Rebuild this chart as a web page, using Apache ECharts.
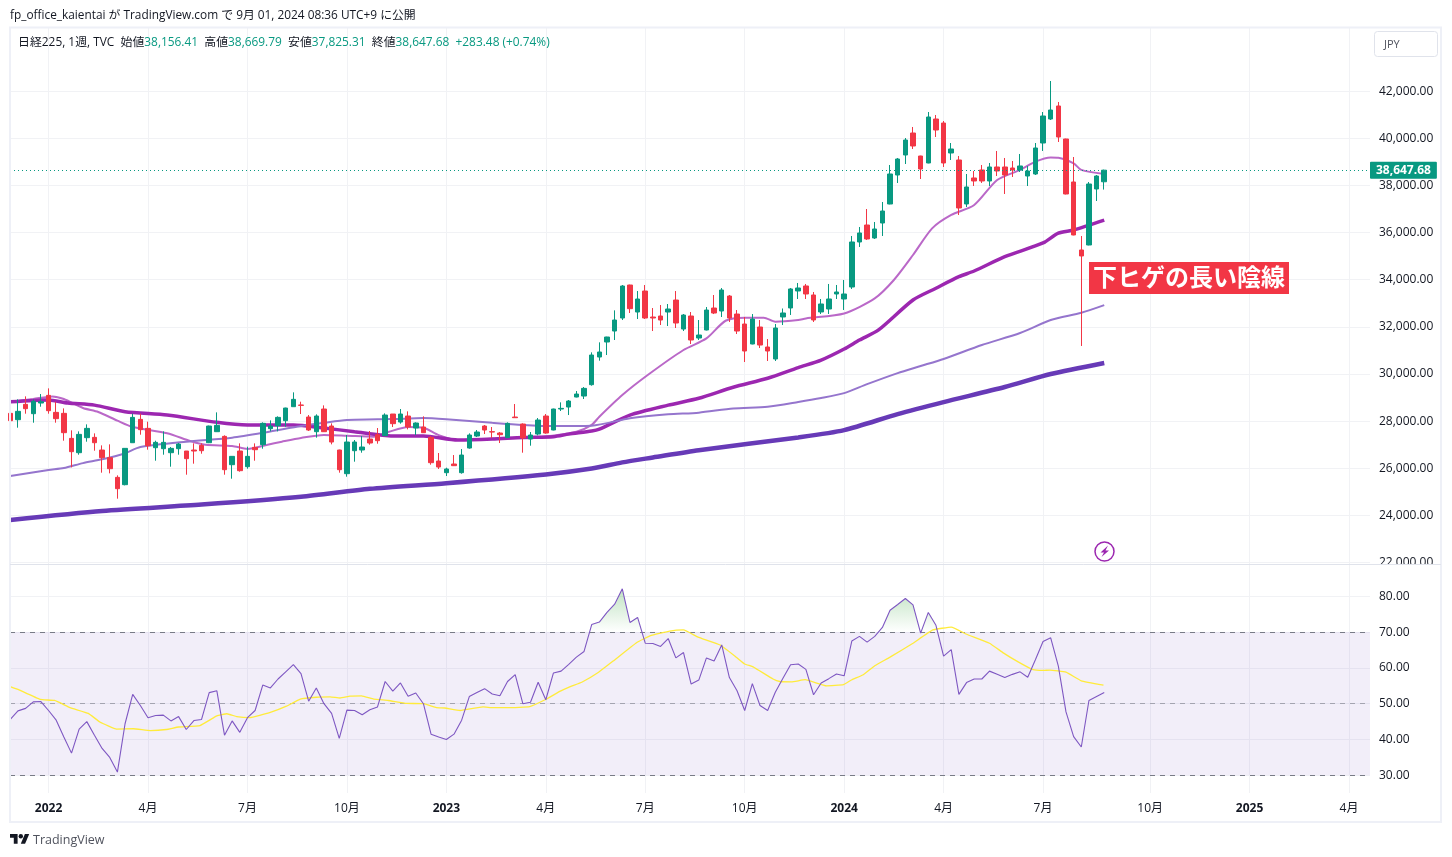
<!DOCTYPE html>
<html><head><meta charset="utf-8">
<style>html,body{margin:0;padding:0;background:#fff}#c{width:1452px;height:857px}</style>
<script src="https://cdn.jsdelivr.net/npm/echarts@6/dist/echarts.min.js"></script>
</head><body><div id="c"></div>
<script>
// Weekly candles, index 0 = week of 2021-11-29
const opens=[28331,28062,28713,28317,28769,29094,28373,28331,27270,26662,27299,27313,26775,26450,25616,25305,27086,28076,27694,26874,26832,26662,26832,26733,26775,26973,27086,27553,27355,26153,26733,26068,26888,27002,27680,27808,28020,28614,
28685,28175,27553,28515,27794,26776,25772,26747,26776,27242,27426,27384,28303,27963,28218,27709,27751,27313,26309,25814,26182,25814,26860,27369,27794,27553,27497,27299,28175,27878,27242,27454,28218,27624,28515,28600,29024,29066,
29548,30721,31358,31824,32376,33776,32630,33521,32418,32461,32630,33139,31909,32461,31527,31867,32800,32673,33309,32545,32121,31273,31994,31146,30637,
32420,32802,33523,33735,33353,32632,32759,33395,33183,33692,35601,36322,35771,36407,37213,38443,39292,40225,39249,38953,40819,40649,
39377,39080,37214,38317,38656,38189,38783,38783,38741,38656,38401,38486,39801,40819,41371,39971,38147,35262,35474,37850,38156.41];
const closes=[28020,28416,28529,28840,28826,28444,28105,27511,26705,27440,27694,27086,26450,25983,25135,26846,28161,27638,26959,27101,27101,26846,27030,26408,26733,26747,27793,27822,25941,26507,25899,26507,26789,27907,27793,28161,28557,28925,
28670,27624,28218,27553,27115,25941,27115,27115,26903,27073,27172,28260,27893,28303,27751,27921,27511,26238,26054,25970,26111,26563,27412,27539,27624,27539,27426,27907,28147,27285,27412,28048,27497,28515,28543,28854,29151,29391,
30806,30934,31570,32291,33733,32772,33182,32376,32376,32291,32758,32164,32503,31443,31655,32715,32588,33564,32376,31824,30976,32333,31230,30976,31952,
32589,33608,33650,33395,32293,32971,33183,33480,33395,35601,35983,35729,36153,36916,38486,39122,39928,39674,38698,40904,40352,38953,
39547,37044,37935,38189,38189,38783,38614,38444,38656,38826,38614,39589,40947,41201,40056,37638,35899,35008,38062,38401,38647.68];
const lows=[28006,27723,28317,27935,28614,28317,27935,27171,26040,26577,27129,26747,25814,25786,24711,25277,27086,27426,26790,26323,26577,26068,26577,25729,26196,26620,27070,27539,25729,25559,25856,25983,26323,26832,27567,27567,27765,28614,
28303,27582,27299,27540,27016,25814,25644,26281,26662,27002,27044,27370,27751,27893,27652,27412,27500,26153,25970,25673,26097,25772,26832,27327,27454,27285,27072,27290,28133,26662,26959,27398,27468,27610,28430,28260,29010,28939,
29505,30566,30806,31443,32291,32588,32333,32333,31824,32079,32036,31952,31824,31273,31443,31850,32545,32418,32206,31697,30509,31260,31103,30552,30552,
32079,32505,33183,33183,32208,32547,32547,33183,32717,33608,35389,35686,35729,35856,37200,38104,38910,39546,38274,38940,40055,38783,
39080,36747,37086,37977,38105,37977,38401,37638,38359,38571,37977,38444,39462,40777,39844,37620,35885,31190,35460,37341,37825.31];
const highs=[28359,28925,29052,28925,29151,29391,28826,28543,27610,27567,27864,27482,26973,27016,25701,26860,28317,28317,27977,27171,27567,26903,27072,26733,27058,27058,27810,28373,27398,26521,27058,26917,27058,27949,28034,28204,28571,29222,
28826,28260,28289,28670,27907,26790,27412,27200,27369,27582,27709,28331,28303,28515,28416,27949,28204,27369,26648,26026,26563,26818,27483,27624,27836,27751,27539,27949,28727,27907,27539,28133,28303,28530,28798,28897,29278,29448,
30919,31344,31580,32701,33776,33790,33521,33776,32800,32927,32970,33521,32545,32630,32291,32842,33352,33648,33352,32715,32418,32545,32291,31485,32121,
32780,33650,33862,33820,33480,33183,33820,33777,33989,35856,36238,37001,36450,37298,38868,39165,40013,40480,39260,41116,40989,40734,
39801,39250,38486,38614,38868,38953,39462,39165,39038,39335,38826,39801,41116,42431,41541,39985,39207,35856,38147,38444,38669.79];

// Moving averages, read at [week index, price]
const ma1=[[0,28820],[3,28940],[5.5,29050],[7,28940],[9.5,28560],[11.5,28390],[14,28020],[16,27750],[20.5,27490],[23.5,27160],[25.5,27000],[29,26950],[31,26820],[33.5,26990],[35.5,27130],[38,27290],[41,27410],[44,27380],[47.5,27340],[49.5,27550],[52,27750],[54,27720],[56,27410],[58.5,27200],[64,27270],[69.5,27340],[74,27550],[76,27840],[77,28190],[80,29110],[83.5,30000],[88,31020],[91,31510],[93.5,32260],[96,32390],[98.5,32390],[100,32220],[103,32290],[104,32360],[109,32570],[113,33210],[115.5,33990],[118,35050],[120.5,36180],[123,36750],[126,37170],[129,38230],[132,38660],[134,39010],[136,39190],[137,39180],[139,38940],[140,38660],[143,38490]];
const ma2=[[0,28820],[5,28900],[7.5,28770],[11,28680],[15,28400],[20.5,28260],[27,27950],[31,27840],[37,27840],[41,27710],[45,27550],[50,27370],[54,27370],[58.5,27200],[63,27240],[67,27310],[71,27340],[73,27450],[76,27580],[77,27660],[81,28260],[86,28680],[90,28970],[94.5,29440],[99,29820],[103,30270],[106,30590],[109,31060],[111,31440],[113.5,31870],[118,33140],[121,33640],[124,34130],[126,34370],[130,34980],[135,35560],[137,35980],[139,36110],[143,36530]];
const ma3=[[0,25670],[5,25926],[7,26010],[9.5,26220],[12,26380],[15,26640],[17,26900],[23,27130],[29,27300],[33.5,27530],[38,27790],[41,27930],[44,28050],[50,28090],[54,28130],[57,28080],[63,27930],[67,27840],[71,27790],[76,27810],[81,28120],[86,28290],[90,28360],[94.5,28540],[99,28610],[103,28810],[106,28980],[109,29190],[112,29570],[116,30040],[119,30340],[122,30640],[127,31230],[132,31740],[136,32290],[140,32600],[143,32925]];
const ma4=[[0,23810],[12,24190],[25,24460],[38,24790],[47,25130],[57,25370],[70,25740],[76,25990],[80,26250],[84,26460],[90,26770],[103,27310],[109,27620],[116,28300],[122,28810],[130,29450],[136,30000],[143,30470]];

// RSI per week
const rsi=[45.6,48.0,48.7,50.5,50.6,48.1,45.4,40.7,36.2,42.9,45.0,41.2,37.5,35.0,30.9,44.4,52.6,49.5,46.1,46.7,46.8,45.2,46.4,42.8,45.3,45.6,53.1,53.6,41.2,45.2,42.0,46.1,48.1,55.2,54.4,56.9,58.9,60.9,58.4,50.7,54.4,50.0,47.3,40.3,48.2,48.1,46.9,48.3,49.1,56.2,53.5,55.8,
52.1,53.0,50.0,41.5,40.7,40.0,41.5,45.4,52.0,53.1,54.2,52.7,52.2,56.2,58.1,50.0,50.4,56.0,51.1,58.6,59.1,61.0,63.0,64.6,72.1,72.8,75.5,77.8,82.1,72.7,74.1,66.9,66.8,66.0,68.2,62.8,64.3,55.5,56.6,62.8,61.9,66.4,57.3,53.6,48.1,55.6,49.5,48.1,53.2,
57.1,60.9,61.1,59.6,52.5,55.8,57.0,58.3,57.8,67.5,68.8,67.2,68.8,71.3,76.1,77.7,79.4,77.6,69.7,75.5,71.9,63.3,65.1,52.6,55.9,56.9,56.9,59.1,58.2,57.3,58.2,58.9,57.4,62.3,67.4,68.4,60.5,47.7,40.8,37.9,50.9,52.0,53.1];
const rsiMa=[[0,54.8],[1,54.0],[3.9,51.2],[5.8,50.9],[7.8,48.9],[10.2,47.3],[11.7,44.9],[13.9,42.9],[16.1,43.0],[18.3,42.5],[20.4,42.8],[22,43.5],[24.8,43.9],[27,46.6],[28.3,47.2],[29.6,46.4],[31.3,46.1],[33.9,47.5],[36.1,49.3],[37.9,51.3],[40,51.8],[41.8,51.9],[43.1,51.6],[44.4,52.1],[45.9,52.2],[47.5,51.3],[49.4,50.9],[51.8,50.1],[54,50.0],[55.7,48.9],[56.8,48.8],[58.8,48.1],[61.8,49.1],[63.1,48.9],[65.1,48.9],[67.9,49.2],[69.9,51.1],[71.9,53.5],[73.2,54.8],[74.7,56.0],[76.9,58.8],[78.8,61.9],[81.9,67.1],[83.8,69.1],[86.2,70.3],[88,70.6],[89.9,68.6],[92.8,66.4],[94.9,63.0],[96,61.1],[97.1,60.3],[99.7,56.9],[100.6,56.2],[102.1,56.1],[103.9,56.7],[106.7,55.0],[108.9,55.3],[110,56.7],[111.5,58.1],[113,60.6],[115,63.0],[118,66.9],[120.6,70.6],[123,71.4],[125,69.4],[128,66.9],[129.8,64.2],[131.8,61.6],[133.7,59.5],[135,59.3],[135.9,59.4],[138,58.8],[140,56.4],[142.9,55.2]];

const tickWeeks=[5,18,31,44,57,70,83,96,109,122,135,149,162,175];
const tickLabels=['2022','4月','7月','10月','2023','4月','7月','10月','2024','4月','7月','10月','2025','4月'];
const priceTicks=[22000,24000,26000,28000,30000,32000,34000,36000,38000,40000,42000];
const rsiTicks=[30,40,50,60,70,80];
const lastClose=38647.68;
const xMin=-0.04,xMax=177.74;

const UP='#089981',DOWN='#f23645',GRID='#f1f2f5',TXT='#131722';
const LATIN='"Open Sans","Noto Sans CJK JP",sans-serif';

const candles=opens.map((o,i)=>[i,o,closes[i],lows[i],highs[i]]);
const rsiPts=rsi.map((v,i)=>[i,v]);
// part of the RSI above the 70 level, cut at the level
const over=[];
rsi.forEach((v,i)=>{
  if(i>0&&(rsi[i-1]-70)*(v-70)<0){over.push([i-1+(70-rsi[i-1])/(v-rsi[i-1]),70]);}
  over.push([i,Math.max(v,70)]);
});

const fmtPrice=v=>Number(v).toLocaleString('en-US',{minimumFractionDigits:2,maximumFractionDigits:2});
const lineS=(name,data,color,width,xi,z)=>({name,type:'line',data,xAxisIndex:xi,yAxisIndex:xi,showSymbol:false,symbol:'none',smooth:0.25,z:z||2,lineStyle:{color,width},silent:true});

const xCommon={type:'value',min:xMin,max:xMax,axisLine:{show:false},
  axisTick:{show:false,customValues:tickWeeks},
  splitLine:{show:true,lineStyle:{color:GRID,width:1}}};

const chart=echarts.init(document.getElementById('c'),null,{renderer:'canvas'});
chart.setOption({
  animation:false,backgroundColor:'#fff',
  textStyle:{fontFamily:LATIN},
  grid:[{left:10,right:82,top:28,height:536},{left:10,right:82,top:564.3,height:228.7}],
  xAxis:[
    Object.assign({},xCommon,{gridIndex:0,axisLabel:{show:false,customValues:tickWeeks}}),
    Object.assign({},xCommon,{gridIndex:1,axisLabel:{show:true,customValues:tickWeeks,margin:10,color:TXT,fontSize:12,fontFamily:LATIN,
      formatter:v=>{const s=tickLabels[tickWeeks.indexOf(v)];return /月/.test(s)?s:'{y|'+s+'}';},
      rich:{y:{fontWeight:'bold',fontSize:12,color:TXT,fontFamily:LATIN}}}})
  ],
  yAxis:[
    {type:'value',gridIndex:0,position:'right',min:21940,max:44680,scale:true,
     axisLine:{show:false},axisTick:{show:false,customValues:priceTicks},
     axisLabel:{customValues:priceTicks,margin:9,color:TXT,fontSize:12,fontFamily:LATIN,formatter:fmtPrice,padding:[0,0,3,0]},
     splitLine:{show:true,lineStyle:{color:GRID,width:1}}},
    {type:'value',gridIndex:1,position:'right',min:25.06,max:88.94,scale:true,
     axisLine:{show:false},axisTick:{show:false,customValues:rsiTicks},
     axisLabel:{customValues:rsiTicks,margin:9,color:TXT,fontSize:12,fontFamily:LATIN,formatter:v=>Number(v).toFixed(2),padding:[0,0,1,0]},
     splitLine:{show:true,lineStyle:{color:GRID,width:1}}}
  ],
  series:[
    lineS('MA1',ma1,'#ba68c8',2,0),
    lineS('MA2',ma2,'#9c27b0',3.5,0),
    lineS('MA3',ma3,'#9575cd',2,0),
    lineS('MA4',ma4,'#673ab7',4.5,0),
    {name:'日経225',type:'candlestick',xAxisIndex:0,yAxisIndex:0,data:candles,
     encode:{x:0,y:[1,2,3,4]},barWidth:5,z:3,silent:true,
     itemStyle:{color:UP,color0:DOWN,borderColor:UP,borderColor0:DOWN,borderWidth:1},
     markLine:{silent:true,symbol:'none',z:4,data:[{yAxis:lastClose}],
       lineStyle:{color:UP,type:[1,3],width:1},
       label:{show:true,position:'end',distance:0,formatter:()=>fmtPrice(lastClose),color:'#fff',fontWeight:'bold',fontSize:12,fontFamily:LATIN,backgroundColor:UP,padding:[3,6,2,6],borderRadius:1}}},
    {name:'RSI過熱',type:'line',xAxisIndex:1,yAxisIndex:1,data:over,showSymbol:false,symbol:'none',z:2,silent:true,
     lineStyle:{width:0,opacity:0},
     areaStyle:{origin:70,opacity:1,color:new echarts.graphic.LinearGradient(0,0,0,1,[{offset:0,color:'rgba(76,175,80,0.35)'},{offset:1,color:'rgba(76,175,80,0)'}])}},
    Object.assign(lineS('RSI MA',rsiMa,'#ffeb3b',1.3,1,3),{smooth:0.1}),
    Object.assign(lineS('RSI',rsiPts,'#7e57c2',1.1,1,4),{smooth:false,
      markArea:{silent:true,z:1,itemStyle:{color:'rgba(126,87,194,0.1)'},data:[[{yAxis:30},{yAxis:70}]]},
      markLine:{silent:true,symbol:'none',z:2,label:{show:false},data:[
        {yAxis:70,lineStyle:{color:'#787b86',type:[5,5],width:1}},
        {yAxis:50,lineStyle:{color:'rgba(120,123,134,0.6)',type:[5,5],width:1}},
        {yAxis:30,lineStyle:{color:'#787b86',type:[5,5],width:1}}]}})
  ],
  graphic:[
    {type:'rect',z:50,silent:true,shape:{x:10,y:27.5,width:1431,height:794.5},style:{fill:'none',stroke:'#eef0f7',lineWidth:2}},
    {type:'line',z:50,silent:true,shape:{x1:10,y1:564.5,x2:1441,y2:564.5},style:{stroke:'#e0e3eb',lineWidth:1}},
    {type:'rect',z:49,silent:true,shape:{x:1372,y:565,width:66,height:12},style:{fill:'#fff'}},
    {type:'text',z:60,silent:true,x:10,y:10,style:{text:'fp_office_kaientai が TradingView.com で 9月 01, 2024 08:36 UTC+9 に公開',fill:TXT,font:'11.85px '+LATIN}},
    {type:'text',z:60,silent:true,x:18,y:37,style:{
      text:'{a|日経225, 1週, TVC  始値}{b|38,156.41}{a|  高値}{b|38,669.79}{a|  安値}{b|37,825.31}{a|  終値}{b|38,647.68  +283.48 (+0.74%)}',
      rich:{a:{fill:TXT,font:'11.9px '+LATIN},b:{fill:UP,font:'11.9px '+LATIN}}}},
    {type:'rect',z:60,silent:true,shape:{x:1374.5,y:31.5,width:63,height:25,r:3},style:{fill:'#fff',stroke:'#e0e3eb',lineWidth:1}},
    {type:'text',z:61,silent:true,x:1384,y:39,style:{text:'JPY',fill:'#50535e',font:'11px '+LATIN}},
    {type:'rect',z:60,silent:true,shape:{x:1089,y:262,width:200,height:32},style:{fill:DOWN}},
    {type:'text',z:61,silent:true,x:1189,y:277,style:{text:'下ヒゲの長い陰線',fill:'#fff',align:'center',verticalAlign:'middle',font:'bold 24px "Noto Sans CJK JP",sans-serif'}},
    {type:'circle',z:60,silent:true,shape:{cx:1104.5,cy:551.5,r:9.5},style:{fill:'#fff',stroke:'#9c27b0',lineWidth:1.5}},
    {type:'polygon',z:61,silent:true,shape:{points:[[1108,545.5],[1100.5,552.5],[1104,552.5],[1101.5,557],[1109,550.5],[1105.5,550.5]]},style:{fill:'#9c27b0'}},
    {type:'polygon',z:60,silent:true,shape:{points:[[10,834],[17.6,834],[17.6,843.7],[13.8,843.7],[13.8,837.8],[10,837.8]]},style:{fill:TXT}},
    {type:'polygon',z:60,silent:true,shape:{points:[[20.8,843.7],[24.9,834],[29.2,834],[25.1,843.7]]},style:{fill:TXT}},
    {type:'circle',z:60,silent:true,shape:{cx:20.8,cy:836.2,r:2.2},style:{fill:TXT}},
    {type:'text',z:60,silent:true,x:33,y:834,style:{text:'TradingView',fill:'#50535e',font:'12.5px '+LATIN}}
  ]
});
</script></body></html>
